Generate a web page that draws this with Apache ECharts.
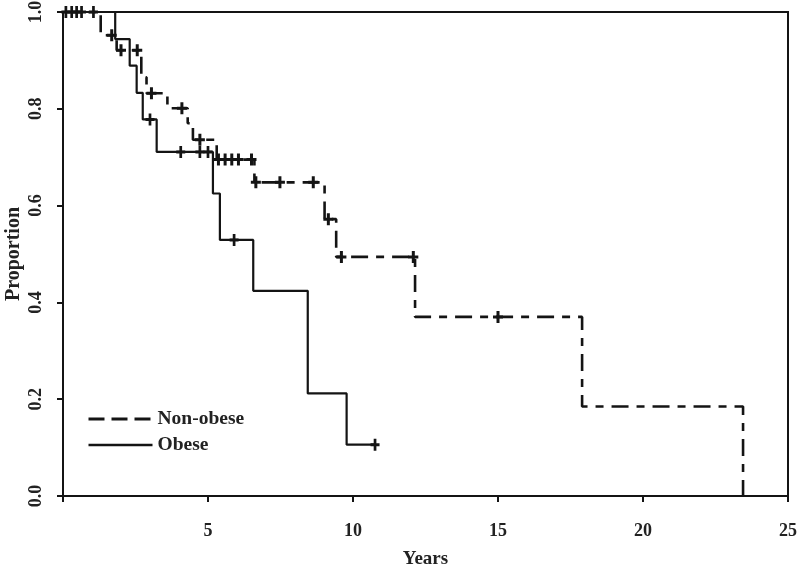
<!DOCTYPE html>
<html>
<head>
<meta charset="utf-8">
<script src="https://cdn.jsdelivr.net/npm/echarts@6/dist/echarts.min.js"></script>
<style>html,body{margin:0;padding:0;background:#fff}#c{width:800px;height:570px}</style>
</head>
<body>
<div id="c"></div>
<script>
// Kaplan-Meier step points: [time (years), proportion]
var nonObeseTimes  = [0, 1.3, 1.85, 2.7, 2.88, 3.6, 4.3, 4.48, 5.3, 6.6, 9.02, 9.42, 12.14, 17.9, 23.45, 23.45];
var nonObeseValues = [1, 0.952, 0.921, 0.865, 0.832, 0.801, 0.77, 0.736, 0.695, 0.648, 0.572, 0.494, 0.37, 0.185, 0.185, 0];
var obeseTimes  = [0, 1.8, 2.3, 2.54, 2.75, 3.23, 5.17, 5.41, 6.56, 8.44, 9.78, 10.76];
var obeseValues = [1, 0.944, 0.889, 0.833, 0.778, 0.711, 0.625, 0.529, 0.424, 0.212, 0.106, 0.106];
// Censored observations
var nonObeseCensorTimes  = [1.68, 2.0, 2.56, 3.05, 4.1, 4.72, 5.36, 5.59, 5.82, 6.05, 6.5, 6.65, 7.48, 8.63, 9.15, 9.6, 12.08, 15.0];
var nonObeseCensorValues = [0.952, 0.921, 0.921, 0.832, 0.801, 0.736, 0.695, 0.695, 0.695, 0.695, 0.695, 0.648, 0.648, 0.648, 0.572, 0.494, 0.494, 0.37];
var obeseCensorTimes  = [0.1, 0.3, 0.47, 0.64, 1.05, 3.0, 4.06, 4.72, 5.0, 5.9, 10.76];
var obeseCensorValues = [1, 1, 1, 1, 1, 0.778, 0.711, 0.711, 0.711, 0.529, 0.106];
var xTicks = [0, 5, 10, 15, 20, 25];
var yTicks = [0.0, 0.2, 0.4, 0.6, 0.8, 1.0];
var seriesNames = ['Non-obese', 'Obese'];

function zip(a, b) { return a.map(function (v, i) { return [v, b[i]]; }); }

var FONT = '"Liberation Serif", "Times New Roman", serif';
var INK = '#141414';
var plus = 'path://M3.5,0 h3 v12 h-3 z M0,4.5 h10 v3 h-10 z';

var chart = echarts.init(document.getElementById('c'));
chart.setOption({
  animation: false,
  backgroundColor: '#fff',
  grid: { left: 63, right: 12, top: 12, bottom: 74, outerBoundsMode: 'none', containLabel: false,
    show: true, borderColor: INK, borderWidth: 2, backgroundColor: 'transparent' },
  xAxis: {
    type: 'value', min: xTicks[0], max: xTicks[xTicks.length - 1], interval: 5,
    name: 'Years', nameLocation: 'middle', nameGap: 54, nameMoveOverlap: false,
    nameTextStyle: { fontFamily: FONT, fontWeight: 'bold', fontSize: 19, color: '#222' },
    axisLine: { show: true, lineStyle: { color: INK, width: 2 } },
    axisTick: { show: true, length: 6, lineStyle: { color: INK, width: 2 } },
    axisLabel: { margin: 26, fontFamily: FONT, fontWeight: 'bold', fontSize: 18, color: '#222',
      formatter: function (v) { return v === 0 ? '' : String(v); } },
    splitLine: { show: false }
  },
  yAxis: {
    type: 'value', min: yTicks[0], max: yTicks[yTicks.length - 1], interval: 0.2,
    name: 'Proportion', nameLocation: 'middle', nameGap: 39, nameMoveOverlap: false,
    nameTextStyle: { fontFamily: FONT, fontWeight: 'bold', fontSize: 20, color: '#222' },
    axisLine: { show: true, lineStyle: { color: INK, width: 2 } },
    axisTick: { show: true, length: 6, lineStyle: { color: INK, width: 2 } },
    axisLabel: { margin: 18, rotate: 90, fontFamily: FONT, fontWeight: 'bold', fontSize: 18, color: '#222',
      formatter: function (v) { return v.toFixed(1); } },
    splitLine: { show: false }
  },
  legend: {
    data: [
      { name: seriesNames[0], lineStyle: { type: [16, 7], width: 3 } },
      { name: seriesNames[1], lineStyle: { width: 2.6 } }
    ],
    orient: 'vertical', left: 82, top: 404,
    itemWidth: 64, itemHeight: 16, itemGap: 6,
    itemStyle: { opacity: 0 },
    textStyle: { fontFamily: FONT, fontWeight: 'bold', fontSize: 19.5, color: '#222' }
  },
  series: [
    { name: seriesNames[0], type: 'line', step: 'end', symbol: 'none', data: zip(nonObeseTimes, nonObeseValues),
      lineStyle: { color: INK, width: 2.6, type: [17, 8, 8, 8] }, itemStyle: { color: INK } },
    { name: seriesNames[1], type: 'line', step: 'end', symbol: 'none', data: zip(obeseTimes, obeseValues),
      lineStyle: { color: INK, width: 2.2, type: 'solid' }, itemStyle: { color: INK } },
    { name: 'nc', type: 'scatter', data: zip(nonObeseCensorTimes, nonObeseCensorValues), symbol: plus, symbolSize: [10, 12], itemStyle: { color: INK, opacity: 1 } },
    { name: 'oc', type: 'scatter', data: zip(obeseCensorTimes, obeseCensorValues), symbol: plus, symbolSize: [9, 12], itemStyle: { color: INK, opacity: 1 } }
  ]
});
</script>
</body>
</html>
